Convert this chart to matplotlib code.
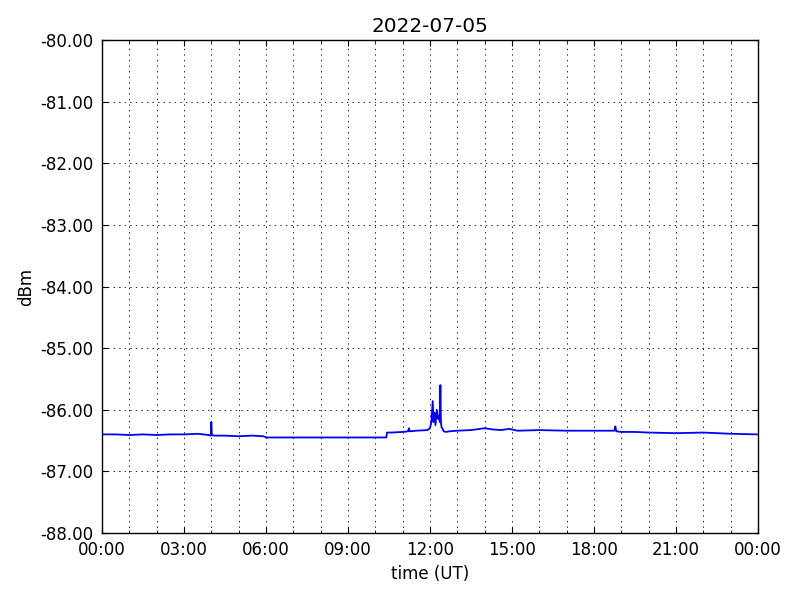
import matplotlib
matplotlib.use("Agg")
import matplotlib.pyplot as plt
from matplotlib.ticker import MultipleLocator, FuncFormatter

plt.rcParams["lines.scale_dashes"] = False

title = "2022-07-05"
hours = [0.0, 0.5, 1.0, 1.5, 2.0, 2.5, 3.0, 3.5, 3.9, 3.98, 4.0, 4.02, 4.1, 4.5, 5.0, 5.5, 5.9,
         6.02, 6.05, 7.0, 8.0, 9.0, 10.0, 10.4, 10.43, 10.6, 11.0, 11.2, 11.23, 11.26, 11.5, 11.9,
         12.0, 12.05, 12.1, 12.13, 12.17, 12.2, 12.25, 12.3, 12.33, 12.36, 12.38, 12.4, 12.42,
         12.45, 12.5, 12.6, 12.7, 13.0, 13.5, 14.0, 14.3, 14.6, 14.9, 15.2, 16.0, 17.0, 18.0,
         18.75, 18.78, 18.82, 19.0, 19.5, 20.0, 21.0, 22.0, 22.5, 23.0, 24.0]
dbm = [-86.40, -86.40, -86.41, -86.40, -86.41, -86.40, -86.40, -86.39, -86.41, -86.42, -86.20, -86.41, -86.42, -86.42, -86.43, -86.42, -86.43,
       -86.45, -86.45, -86.45, -86.45, -86.45, -86.45, -86.45, -86.37, -86.37, -86.36, -86.35, -86.30, -86.35, -86.34, -86.33,
       -86.30, -86.20, -85.86, -86.20, -86.05, -86.25, -86.00, -86.15, -86.10, -86.20, -85.60, -86.20, -86.28,
       -86.30, -86.35, -86.36, -86.35, -86.34, -86.33, -86.30, -86.32, -86.33, -86.31, -86.34, -86.33, -86.34, -86.34,
       -86.34, -86.27, -86.35, -86.36, -86.36, -86.37, -86.38, -86.37, -86.38, -86.39, -86.40]

fig = plt.figure(figsize=(8, 6), dpi=100)
fig.patch.set_facecolor("white")
ax = fig.add_axes([102/800, 1 - 533/600, 656/800, 493/600])
ax.plot(hours, dbm, color="blue", linewidth=1.3)

ax.set_xlim(0, 24)
ax.set_ylim(-88, -80)
ax.xaxis.set_major_locator(MultipleLocator(3))
ax.xaxis.set_minor_locator(MultipleLocator(1))
ax.xaxis.set_major_formatter(FuncFormatter(lambda v, p: f"{int(round(v)) % 24:02d}:00"))
ax.yaxis.set_major_locator(MultipleLocator(1))
ax.yaxis.set_major_formatter(FuncFormatter(lambda v, p: f"{v:.2f}"))

ax.tick_params(which="both", direction="in", top=True, right=True, labelsize=12)
ax.tick_params(which="major", length=4)
ax.tick_params(which="minor", length=2)
ax.tick_params(axis="x", pad=6)
ax.tick_params(axis="y", pad=6)
grid_style = dict(color="black", linestyle=(0, (1, 3)), linewidth=0.6)
ax.grid(True, which="major", **grid_style)
ax.grid(True, which="minor", axis="x", **grid_style)
for s in ax.spines.values():
    s.set_linewidth(1.0)

ax.set_title(title, fontsize=14.4)
ax.set_xlabel("time (UT)", fontsize=12)
ax.set_ylabel("dBm", fontsize=12)

fig.savefig("out.png", dpi=100)
